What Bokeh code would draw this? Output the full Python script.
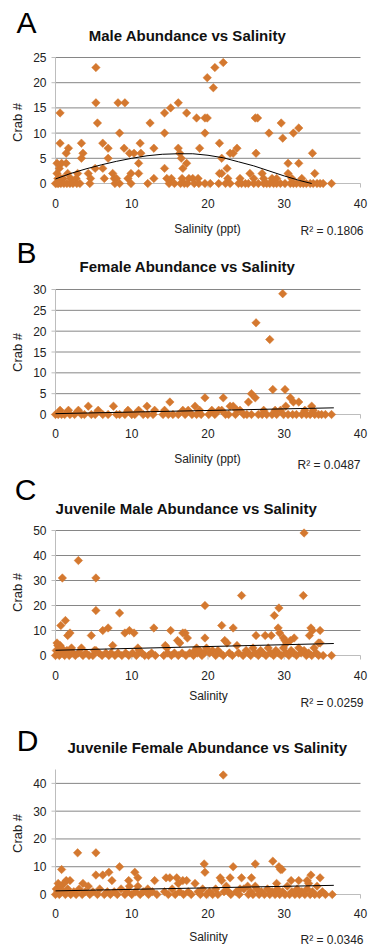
import math
from bokeh.plotting import figure
from bokeh.models import Range1d, Label
from bokeh.core.properties import value
from bokeh.layouts import column
from bokeh.embed import file_html
from bokeh.resources import INLINE

# ---------------- data ----------------
x_ticks = [0, 10, 20, 30, 40]
x_tick_labels = ["0", "10", "20", "30", "40"]

male_ticks = [0, 5, 10, 15, 20, 25]
male_tick_labels = ["0", "5", "10", "15", "20", "25"]
male_sal = [5.3, 5.3, 5.5, 0.6, 0.6, 8.2, 9.1, 8.4, 9.0, 3.4, 3.4, 3.6, 1.7, 1.4, 0.8, 6.2, 6.9, 6.9,
            9.7, 10.3, 11.1, 11.2, 10.9, 10.9, 12.4, 12.9, 14.3, 15.1, 16.1, 17.2, 18.5, 19.6, 19.6,
            14.3, 18.9, 16.1, 16.3, 16.5, 16.7, 17.2, 14.3, 4.3, 5.2, 6.2, 19.9, 20.9, 22.0, 20.7,
            26.2, 26.5, 26.3, 28.0, 29.6, 29.8, 31.2, 31.9, 21.5, 21.8, 22.9, 23.3, 23.8, 21.5, 21.8,
            22.5, 25.5, 27.1, 30.5, 31.9, 30.5, 33.7, 34.0, 19.9, 7.5, 7.7, 9.9, 2.9, 1.6, 0.2, 0.5,
            0.2, 1.4, 0.3,
            1.0, 2.0, 2.7, 4.6, 6.4, 8.0, 9.5, 12.9, 14.6, 15.2, 16.6, 18.0, 18.7, 22.6, 26.0, 27.3,
            28.4, 29.0, 31.0, 32.3, 24.2, 17.5, 0.7,
            0.0, 0.2, 0.4, 0.7, 1.1, 1.5, 1.9, 2.3, 2.8, 3.2, 4.5, 7.8, 8.4, 9.9, 12.1, 14.9, 15.6,
            16.4, 16.9, 17.3, 18.2, 18.8, 19.6, 20.3, 21.4, 22.3, 22.9, 24.0, 24.4, 24.9, 25.3, 26.0,
            26.6, 27.3, 27.7, 28.1, 28.6, 29.0, 29.5, 30.1, 30.8, 31.2, 31.6, 32.1, 32.5, 32.9, 33.4,
            33.8, 34.3, 34.7, 35.1, 36.2]
male_crab = [23, 16, 12, 14, 8, 16, 16, 10, 7, 8, 5, 6, 7, 6, 4, 8, 7, 5,
             6, 6, 8, 6, 4, 2, 12, 7, 14, 15, 16, 14, 13, 13, 10,
             10, 7, 7, 6, 5, 3, 4, 3, 2, 3, 3, 21, 23, 24, 19,
             13, 13, 6, 10, 12, 9, 10, 11, 8, 5, 6, 6, 7, 2, 2,
             3, 2, 2, 4, 4, 2, 6, 2, 13, 2, 1, 2, 2, 2, 2, 3,
             4, 4, 1,
             1, 1, 1, 1, 1, 1, 1, 1, 1, 1, 1, 1, 1, 1, 1, 1,
             1, 1, 1, 1, 1, 1, 1,
             0, 0, 0, 0, 0, 0, 0, 0, 0, 0, 0, 0, 0, 0, 0, 0, 0,
             0, 0, 0, 0, 0, 0, 0, 0, 0, 0, 0, 0, 0, 0, 0,
             0, 0, 0, 0, 0, 0, 0, 0, 0, 0, 0, 0, 0, 0, 0,
             0, 0, 0, 0, 0]
male_trend_sal = [0, 2, 4, 6, 8, 10, 12, 14, 16, 18, 20, 22, 24, 26, 28, 30, 32, 33.6]
male_trend_crab = [0.9, 2.0, 2.9, 3.7, 4.4, 5.0, 5.5, 5.8, 5.9, 5.9, 5.6, 5.1, 4.3, 3.5, 2.5, 1.5, 0.6, 0.0]

female_ticks = [0, 5, 10, 15, 20, 25, 30]
female_tick_labels = ["0", "5", "10", "15", "20", "25", "30"]
female_sal = [29.8, 26.3, 28.1, 28.5, 30.1, 25.7, 26.2, 25.3, 30.8, 31.2, 31.9, 30.2, 19.6, 22.0,
              22.9, 23.3, 33.6, 4.3, 7.6, 12.0, 15.0, 14.3, 18.3,
              20.5, 21.4, 21.8, 23.8, 24.2, 27.3, 28.8, 29.5, 32.7, 33.8,
              0.6, 1.7, 3.0, 5.6, 9.5, 10.9, 13.0, 16.7, 17.4, 18.9,
              20.1, 20.9, 22.3, 22.7, 23.6, 24.7, 25.1, 25.7, 26.6, 27.1, 27.7, 28.4, 29.0, 29.9,
              30.5, 31.1, 31.6, 32.3, 32.9, 33.4, 34.0, 34.5, 34.9, 35.4, 36.2,
              0.0, 0.35, 0.8, 1.2, 1.9, 2.5, 3.4, 3.8, 4.7, 5.2, 6.2, 6.9, 8.0, 8.4, 9.1, 10.0,
              10.4, 11.5, 12.1, 12.8, 14.1, 14.8, 15.4, 16.1, 17.0, 17.9, 18.5, 19.1]
female_crab = [29, 22, 18, 6, 6, 5, 4, 3, 4, 3, 3, 2, 4, 4,
               2, 2, 2, 2, 2, 2, 3, 1, 2,
               1, 1, 1, 1, 1, 1, 1, 1, 1, 1,
               1, 1, 1, 1, 1, 1, 1, 1, 1, 1,
               0, 0, 0, 0, 0, 0, 0, 0, 0, 0, 0, 0, 0, 0,
               0, 0, 0, 0, 0, 0, 0, 0, 0, 0, 0,
               0, 0, 0, 0, 0, 0, 0, 0, 0, 0, 0, 0, 0, 0, 0, 0,
               0, 0, 0, 0, 0, 0, 0, 0, 0, 0, 0, 0]
female_trend_sal = [0, 36.5]
female_trend_crab = [0.2, 1.6]

juvm_ticks = [0, 10, 20, 30, 40, 50]
juvm_tick_labels = ["0", "10", "20", "30", "40", "50"]
juvm_sal = [32.6, 3.0, 0.9, 5.3, 24.4, 32.5, 19.6, 29.3, 28.7, 5.3, 8.4, 0.7, 1.3, 1.6, 1.9, 4.7,
            6.2, 6.9, 9.1, 9.7, 10.3, 12.9, 15.1, 16.0, 16.3, 16.7, 17.0, 17.3, 19.6, 0.3, 0.6, 0.8,
            2.1, 3.4, 5.3, 7.5, 10.8, 11.0, 14.4, 14.6, 18.3, 18.5, 21.8, 23.3, 29.2, 29.4, 26.3,
            27.5, 28.3, 33.5, 33.7, 33.3, 34.7, 31.3, 22.2, 22.5, 23.8, 29.9, 30.1, 30.3, 30.8,
            34.5, 34.7,
            0.0, 0.1, 0.2, 0.4, 0.5, 0.9, 1.2, 1.5, 1.8, 2.3, 2.6, 3.0, 3.6, 4.0, 4.4, 4.9, 5.1,
            5.7, 6.1, 6.6, 7.0, 7.3, 7.8, 8.2, 8.7, 9.2, 9.6, 10.1, 10.6, 11.3, 11.7, 12.2, 12.6,
            13.1, 14.2, 14.7, 15.2, 15.6, 16.1, 16.6, 17.1, 17.6, 18.1, 18.6, 18.9, 19.2, 19.5,
            19.8, 20.2, 20.6, 21.0, 21.3, 21.6, 22.0, 22.8, 23.2, 24.0, 24.6, 25.0, 25.3, 25.6,
            25.9, 26.2, 26.6, 26.9, 27.2, 27.6, 27.9, 28.2, 28.6, 28.9, 29.2, 29.6, 29.9, 30.2,
            30.6, 30.9, 31.2, 31.6, 31.9, 32.2, 32.6, 32.9, 33.2, 33.6, 33.9, 34.2, 34.5, 35.1, 36.2]
juvm_crab = [49, 38, 31, 31, 24, 24, 20, 19, 16, 18, 17, 12, 14, 8, 9, 8,
             10, 11, 9, 10, 9, 11, 10, 6, 5, 9, 9, 7, 7, 4, 4, 3,
             3, 3, 2, 4, 3, 2, 4, 3, 2, 3, 12, 11, 11, 9, 8,
             8, 8, 11, 10, 8, 10, 7, 6, 5, 4, 7, 6, 5, 6,
             5, 5,
             0, 2, 5, 1, 0, 1, 0, 2, 0, 1, 0, 1, 0, 1, 0, 0, 2,
             1, 0, 1, 0, 1, 0, 1, 0, 1, 0, 1, 0, 1, 0, 0, 1,
             0, 0, 1, 0, 1, 0, 1, 0, 1, 0, 1, 2, 0, 1,
             3, 1, 2, 0, 2, 1, 0, 1, 0, 1, 0, 2, 1, 0,
             3, 1, 0, 2, 1, 0, 3, 1, 0, 2, 1, 0, 3, 1,
             0, 2, 1, 0, 3, 1, 2, 0, 1, 0, 3, 1, 0, 0, 0]
juvm_trend_sal = [0, 36.5]
juvm_trend_crab = [2.1, 4.8]

juvf_ticks = [0, 10, 20, 30, 40]
juvf_tick_labels = ["0", "10", "20", "30", "40"]
juvf_sal = [22.0, 2.9, 5.3, 0.8, 8.4, 5.3, 6.2, 7.0, 10.4, 7.4, 9.6, 13.0, 10.8, 19.5, 19.6, 1.4,
            1.9, 1.1, 0.35, 3.6, 4.3, 14.5, 15.0, 15.9, 16.1, 16.7, 17.2, 18.3, 10.8, 9.7, 12.1,
            23.3, 26.2, 28.5, 29.3, 29.7, 29.5, 21.6, 21.8, 22.9, 24.4, 25.7, 33.5, 34.7, 33.0,
            33.2, 30.9, 31.9, 29.0, 25.2, 26.2, 24.2, 22.7,
            0.0, 0.1, 0.3, 0.5, 0.7, 1.0, 1.3, 1.6, 2.0, 2.4, 2.7, 3.1, 3.5, 3.9, 4.5, 4.9, 5.5,
            5.8, 6.4, 6.8, 7.2, 7.7, 8.1, 8.6, 9.1, 9.4, 10.0, 10.5, 11.1, 11.5, 12.2, 12.7, 13.3,
            14.3, 14.8, 15.3, 15.7, 16.3, 16.8, 17.4, 17.8, 18.7, 19.0, 19.3, 19.8, 20.2, 20.6,
            21.0, 21.3, 22.1, 22.4, 23.0, 23.7, 24.1, 24.7, 25.3, 25.6, 25.9, 26.4, 26.7, 27.0,
            27.4, 27.8, 28.1, 28.4, 28.8, 29.1, 29.4, 29.8, 30.1, 30.4, 30.7, 31.0, 31.4, 31.7,
            32.0, 32.3, 32.7, 33.0, 33.4, 33.7, 34.0, 34.3, 34.6, 35.0, 35.4, 36.3]
juvf_crab = [43, 15, 15, 9, 10, 7, 7, 8, 8, 5, 5, 5, 6, 11, 8, 5,
             5, 4, 4, 4, 3, 6, 6, 6, 4, 5, 5, 4, 3, 3, 2,
             10, 11, 12, 10, 9, 9, 6, 5, 6, 6, 6, 7, 6, 5,
             4, 5, 5, 4, 3, 3, 2, 1,
             0, 2, 1, 0, 3, 1, 0, 2, 0, 1, 0, 2, 0, 1, 0, 1, 0,
             2, 0, 1, 0, 1, 0, 2, 0, 1, 0, 1, 0, 1, 0, 1, 0,
             1, 0, 2, 0, 1, 0, 1, 0, 1, 0, 2, 0, 1, 0,
             2, 0, 1, 3, 0, 1, 0, 2, 0, 1, 0, 2, 0, 1,
             0, 2, 0, 1, 0, 2, 0, 1, 0, 3, 0, 1, 0, 2,
             0, 1, 0, 2, 0, 1, 0, 3, 0, 1, 0, 0]
juvf_trend_sal = [0, 36.5]
juvf_trend_crab = [1.3, 3.3]

panels = [
    dict(letter="A", title="Male Abundance vs Salinity", xlabel="Salinity (ppt)", r2="R\u00b2 = 0.1806",
         sal=male_sal, crab=male_crab, tsal=male_trend_sal, tcrab=male_trend_crab,
         yticks=male_ticks, ylabels=male_tick_labels),
    dict(letter="B", title="Female Abundance vs Salinity", xlabel="Salinity (ppt)", r2="R\u00b2 = 0.0487",
         sal=female_sal, crab=female_crab, tsal=female_trend_sal, tcrab=female_trend_crab,
         yticks=female_ticks, ylabels=female_tick_labels),
    dict(letter="C", title="Juvenile Male Abundance vs Salinity", xlabel="Salinity", r2="R\u00b2 = 0.0259",
         sal=juvm_sal, crab=juvm_crab, tsal=juvm_trend_sal, tcrab=juvm_trend_crab,
         yticks=juvm_ticks, ylabels=juvm_tick_labels),
    dict(letter="D", title="Juvenile Female Abundance vs Salinity", xlabel="Salinity", r2="R\u00b2 = 0.0346",
         sal=juvf_sal, crab=juvf_crab, tsal=juvf_trend_sal, tcrab=juvf_trend_crab,
         yticks=juvf_ticks, ylabels=juvf_tick_labels),
]

# ---------------- layout (page pixel geometry) ----------------
W = 370
X0_PAGE, X40_PAGE = 55, 360
geom = [
    dict(top=0, h=236, y0=183, yt=57, ymax=25, let=(26, 22), tit=(187, 35), crab=(17, 122),
         xl=(207, 228), r2=(300, 230), xt=203),
    dict(top=236, h=236, y0=414, yt=289, ymax=30, let=(26, 252), tit=(187, 266), crab=(17, 352),
         xl=(207, 458), r2=(297, 464), xt=433),
    dict(top=472, h=240, y0=655, yt=530, ymax=50, let=(25, 489), tit=(186, 508), crab=(17, 592),
         xl=(208, 695), r2=(300, 702), xt=675),
    dict(top=712, h=235, y0=894, yt=769, ymax=45, let=(27, 740), tit=(207, 747), crab=(17, 833),
         xl=(208, 936), r2=(300, 939), xt=913),
]

FONT = "Liberation Sans"
ORANGE = "#D4782F"
GRID = "#868686"
AXIS = "#bdbdbd"
TXT = "#222222"

figs = []
for pnl, g in zip(panels, geom):
    ppx = (X40_PAGE - X0_PAGE) / 40.0
    ppy = (g["y0"] - g["yt"]) / g["ymax"]

    def dx(px):
        return (px - X0_PAGE) / ppx

    def dy(py):
        return (g["y0"] - py) / ppy

    p = figure(width=W, height=g["h"],
               x_range=Range1d(dx(0), dx(W)),
               y_range=Range1d(dy(g["top"] + g["h"]), dy(g["top"])),
               output_backend="svg", toolbar_location=None,
               x_axis_location=None, y_axis_location=None,
               min_border=0, min_border_left=0, min_border_right=0,
               min_border_top=0, min_border_bottom=0)
    p.outline_line_color = None
    p.background_fill_color = "white"
    p.border_fill_color = "white"
    p.xgrid.visible = False
    p.ygrid.visible = False

    yt = pnl["yticks"]
    ymax = g["ymax"]
    gt = yt[1:]
    # horizontal gridlines
    p.segment(x0=[0] * len(gt), y0=gt, x1=[40] * len(gt), y1=gt, line_color=GRID, line_width=1)
    # axis lines
    p.segment(x0=[0, 0], y0=[0, 0], x1=[40, 0], y1=[0, ymax], line_color=AXIS, line_width=1)
    # tick marks
    p.segment(x0=[dx(X0_PAGE - 4)] * len(yt), y0=yt, x1=[0] * len(yt), y1=yt, line_color=AXIS, line_width=1)
    p.segment(x0=x_ticks, y0=[0] * len(x_ticks), x1=x_ticks, y1=[dy(g["y0"] + 4)] * len(x_ticks),
              line_color=AXIS, line_width=1)
    # tick labels
    p.text(x=[dx(46)] * len(yt), y=yt, text=pnl["ylabels"], text_font=value(FONT),
           text_font_size=value("12px"), text_align="right", text_baseline="middle", text_color=TXT)
    p.text(x=x_ticks, y=[dy(g["xt"])] * len(x_ticks), text=x_tick_labels, text_font=value(FONT),
           text_font_size=value("12px"), text_align="center", text_baseline="middle", text_color=TXT)

    p.scatter(pnl["sal"], pnl["crab"], marker="square", angle=math.pi / 4, size=6,
              fill_color=ORANGE, line_color=ORANGE, line_width=0.5)
    p.line(pnl["tsal"], pnl["tcrab"], line_color="black", line_width=1)

    p.add_layout(Label(x=dx(g["let"][0]), y=dy(g["let"][1]), text=pnl["letter"], text_font=FONT,
                       text_font_size="30px", text_align="center", text_baseline="middle", text_color="black"))
    p.add_layout(Label(x=dx(g["tit"][0]), y=dy(g["tit"][1]), text=pnl["title"], text_font=FONT,
                       text_font_size="15px", text_font_style="bold", text_align="center",
                       text_baseline="middle", text_color="#111111"))
    p.add_layout(Label(x=dx(g["crab"][0]), y=dy(g["crab"][1]), text="Crab #", text_font=FONT,
                       text_font_size="13px", text_align="center", text_baseline="middle",
                       angle=math.pi / 2, text_color=TXT))
    p.add_layout(Label(x=dx(g["xl"][0]), y=dy(g["xl"][1]), text=pnl["xlabel"], text_font=FONT,
                       text_font_size="12px", text_align="center", text_baseline="middle", text_color=TXT))
    p.add_layout(Label(x=dx(g["r2"][0]), y=dy(g["r2"][1]), text=pnl["r2"], text_font=FONT,
                       text_font_size="12px", text_align="left", text_baseline="middle", text_color=TXT))
    figs.append(p)

layout = column(*figs, spacing=0)
open("out.html", "w").write(file_html(layout, INLINE))
